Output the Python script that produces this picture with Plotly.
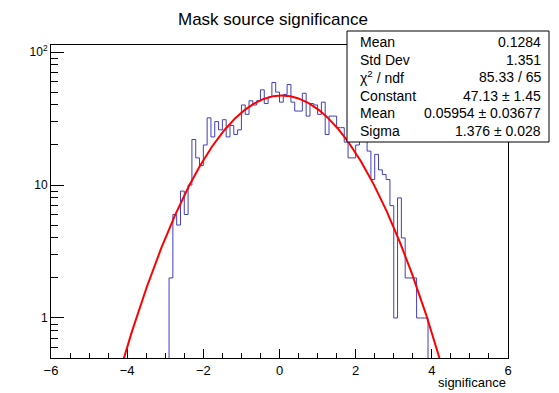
import numpy as np
import plotly.graph_objects as go

# ---- data ----
bin_low = -2.9
bin_width = 0.1
counts = [2, 6, 5, 9, 6, 10, 22, 16, 14, 20,
          32, 23, 30, 26, 31, 23, 28, 24, 26, 40,
          34, 43, 40, 43, 52, 41, 46, 59, 50, 42,
          48, 57, 42, 36, 36, 49, 33, 41, 40, 34,
          42, 24, 33, 33, 27, 27, 21, 16, 16, 20,
          22, 22, 18, 11, 17, 13, 12, 11, 7, 1,
          8, 4, 2, 2, 2, 1, 1, 1]
fit_constant = 47.13
fit_mean = 0.05954
fit_sigma = 1.376
stat_labels = ["Mean", "Std Dev", "χ<sup>2</sup> / ndf", "Constant", "Mean", "Sigma"]
stat_values = ["0.1284", "1.351", "85.33 / 65", "47.13 ± 1.45", "0.05954 ± 0.03677", "1.376 ± 0.028"]
x_tickvals = [-6, -4, -2, 0, 2, 4, 6]
y_tickvals = [1, 10, 100]
y_ticktext = ["1", "10", "10<sup>2</sup>"]

FONT = "Liberation Sans, Arial, Helvetica, sans-serif"
W, H = 559, 393
L, R, T, B = 51, 51, 45, 35
pw, ph = W - L - R, H - T - B

def px_x(x):
    return (x - L) / pw

def px_y(y):
    return (H - B - y) / ph

n = len(counts)
edges = [bin_low + i * bin_width for i in range(n + 1)]
floor = 0.05
hx = [edges[0]] + edges[:n] + [edges[n]]
hy = [floor] + counts + [floor]

xs = np.linspace(-6, 6, 1201)
ys = fit_constant * np.exp(-0.5 * ((xs - fit_mean) / fit_sigma) ** 2)

fig = go.Figure()
fig.add_trace(go.Scatter(x=hx, y=hy, mode="lines", line=dict(shape="hv", color="#3f3fbf", width=1),
                         hoverinfo="skip", showlegend=False))
fig.add_trace(go.Scatter(x=xs, y=ys, mode="lines", line=dict(color="#ff0000", width=2),
                         hoverinfo="skip", showlegend=False))

minor_y = [k * 10.0 ** d for d in (-1, 0, 1) for k in range(2, 10)]
minor_y = [v for v in minor_y if 0.5 <= v <= 113]

fig.update_layout(
    width=W, height=H,
    margin=dict(l=L, r=R, t=T, b=B, pad=0),
    paper_bgcolor="white", plot_bgcolor="white",
    font=dict(family=FONT, color="black"),
    showlegend=False,
    xaxis=dict(range=[-6, 6], showline=True, linecolor="black", linewidth=1, mirror=True,
               ticks="inside", ticklen=9, tickcolor="black", tickwidth=1,
               tickvals=x_tickvals, showgrid=False, zeroline=False,
               tickfont=dict(size=13, family=FONT, color="black"),
               minor=dict(dtick=0.5, tick0=-6, ticks="inside", ticklen=5, tickcolor="black", showgrid=False)),
    yaxis=dict(type="log", range=[np.log10(0.5), np.log10(113)], showline=True, linecolor="black",
               linewidth=1, mirror=True, ticks="inside", ticklen=13, tickcolor="black", tickwidth=1,
               tickvals=y_tickvals, ticktext=y_ticktext, showgrid=False, zeroline=False,
               tickfont=dict(size=12, family=FONT, color="black"),
               minor=dict(tickvals=minor_y, ticks="inside", ticklen=7, tickcolor="black", showgrid=False)),
)

fig.add_annotation(text="Mask source significance", xref="paper", yref="paper",
                   x=px_x(273), y=px_y(19), xanchor="center", yanchor="middle",
                   showarrow=False, font=dict(size=17, family=FONT, color="black"))
fig.add_annotation(text="significance", xref="paper", yref="paper",
                   x=1.0, y=px_y(382), xanchor="right", yanchor="middle",
                   showarrow=False, font=dict(size=13, family=FONT, color="black"))

fig.add_shape(type="rect", xref="paper", yref="paper",
              x0=px_x(347), x1=px_x(549), y0=px_y(142), y1=px_y(31),
              line=dict(color="black", width=1), fillcolor="white", layer="above")
row_y = [42, 59.5, 77.5, 95.5, 113.3, 131.3]
for lab, val, yy in zip(stat_labels, stat_values, row_y):
    fig.add_annotation(text=lab, xref="paper", yref="paper", x=px_x(358), y=px_y(yy),
                       xanchor="left", yanchor="middle", showarrow=False,
                       font=dict(size=14, family=FONT, color="black"))
    fig.add_annotation(text=val, xref="paper", yref="paper", x=px_x(543), y=px_y(yy),
                       xanchor="right", yanchor="middle", showarrow=False,
                       font=dict(size=14, family=FONT, color="black"))

fig.write_html("out.html")
